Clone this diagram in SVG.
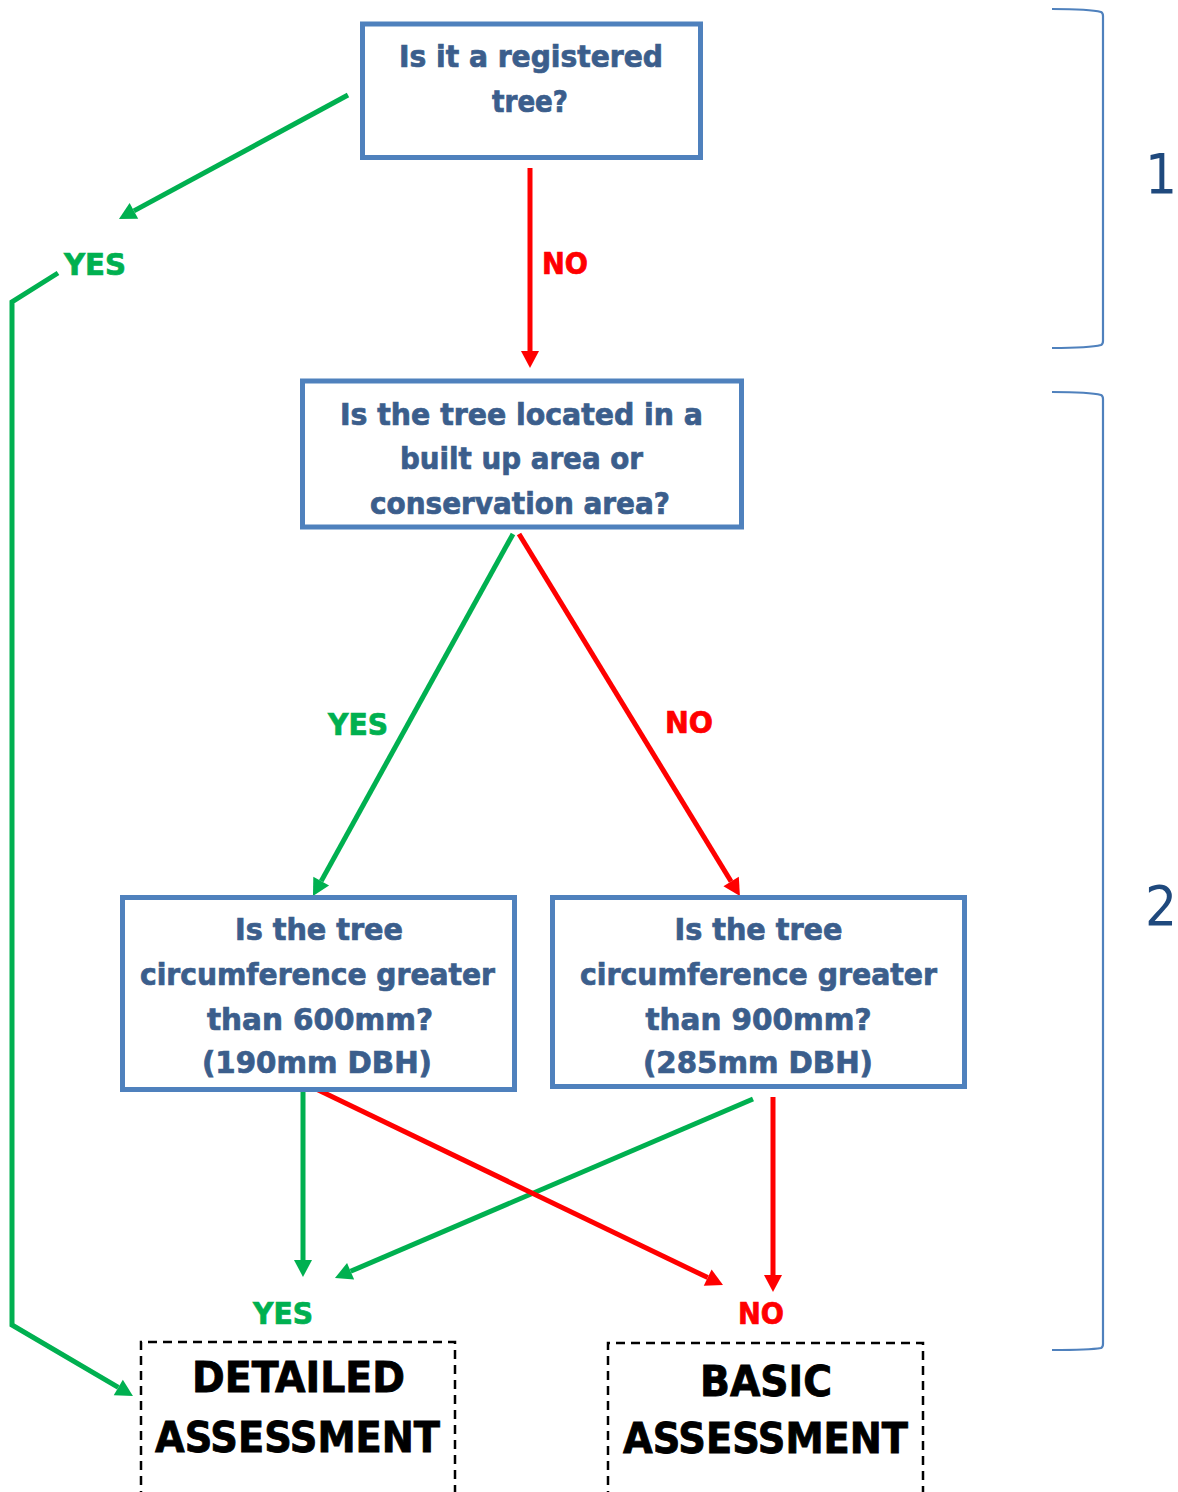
<svg xmlns="http://www.w3.org/2000/svg" width="1178" height="1492" viewBox="0 0 1178 1492">
<style>
  .box { fill: #ffffff; stroke: #4F81BD; stroke-width: 5; }
  .q { font-family: "DejaVu Sans Condensed", "DejaVu Sans", sans-serif; font-stretch: condensed; font-weight: bold; font-size: 31px; fill: #3B5E8C; stroke: #3B5E8C; stroke-width: 0.7; text-anchor: middle; }
  .lblg { font-family: "DejaVu Sans Condensed", "DejaVu Sans", sans-serif; font-stretch: condensed; font-weight: bold; font-size: 31px; fill: #00B050; stroke: #00B050; stroke-width: 0.7; }
  .lblr { font-family: "DejaVu Sans Condensed", "DejaVu Sans", sans-serif; font-stretch: condensed; font-weight: bold; font-size: 31px; fill: #FF0000; stroke: #FF0000; stroke-width: 0.7; }
  .out { fill: none; stroke: #000000; stroke-width: 2.5; stroke-dasharray: 9 6; }
  .big { font-family: "DejaVu Sans Condensed", "DejaVu Sans", sans-serif; font-stretch: condensed; font-weight: bold; font-size: 42px; fill: #000000; stroke: #000000; stroke-width: 0.8; text-anchor: middle; }
  .g { fill: none; stroke: #00B050; stroke-width: 5; marker-end: url(#ag); }
  .r { fill: none; stroke: #FF0000; stroke-width: 5; marker-end: url(#ar); }
  .brace { fill: none; stroke: #4F81BD; stroke-width: 2.2; }
  .num { font-family: "DejaVu Sans Condensed", "DejaVu Sans", sans-serif; font-stretch: condensed; font-size: 56px; fill: #1F497D; text-anchor: middle; }
</style>
<defs>
  <marker id="ag" markerUnits="userSpaceOnUse" markerWidth="20" markerHeight="20" refX="0" refY="9" orient="auto" viewBox="0 0 20 20" overflow="visible">
    <path d="M0,0 L17,9 L0,18 z" fill="#00B050"/>
  </marker>
  <marker id="ar" markerUnits="userSpaceOnUse" markerWidth="20" markerHeight="20" refX="0" refY="9" orient="auto" viewBox="0 0 20 20" overflow="visible">
    <path d="M0,0 L17,9 L0,18 z" fill="#FF0000"/>
  </marker>
</defs>
<rect width="1178" height="1492" fill="#ffffff"/>

<g id="connectors">
  <line class="g" x1="348" y1="95" x2="133.9" y2="210.9"/>
  <polyline class="g" points="58,273 12,302 12,1325 118.3,1387.4"/>
  <line class="r" x1="530" y1="168" x2="530" y2="351"/>
  <line class="g" x1="513" y1="534" x2="321.2" y2="881.1"/>
  <line class="r" x1="519" y1="534" x2="731.1" y2="881.5"/>
  <line class="g" x1="303" y1="1087" x2="303" y2="1260"/>
  <line class="g" x1="753" y1="1099" x2="350.6" y2="1271.3"/>
  <line class="r" x1="312" y1="1087" x2="707.7" y2="1277.6"/>
  <line class="r" x1="773" y1="1097" x2="773" y2="1275"/>
  <text class="lblg" x="64" y="275" textLength="62" lengthAdjust="spacingAndGlyphs">YES</text>
  <text class="lblr" x="542" y="274" textLength="46" lengthAdjust="spacingAndGlyphs">NO</text>
  <text class="lblg" x="328" y="735" textLength="60" lengthAdjust="spacingAndGlyphs">YES</text>
  <text class="lblr" x="665" y="733" textLength="48" lengthAdjust="spacingAndGlyphs">NO</text>
  <text class="lblg" x="253" y="1324" textLength="60" lengthAdjust="spacingAndGlyphs">YES</text>
  <text class="lblr" x="738" y="1324" textLength="46" lengthAdjust="spacingAndGlyphs">NO</text>
</g>

<g id="node-registered">
  <rect class="box" x="362.5" y="24" width="338" height="133.5"/>
  <text class="q" x="531" y="67" textLength="264" lengthAdjust="spacingAndGlyphs">Is it a registered</text>
  <text class="q" x="530" y="112" textLength="76" lengthAdjust="spacingAndGlyphs">tree?</text>
</g>

<g id="node-location">
  <rect class="box" x="302.5" y="381" width="439" height="146"/>
  <text class="q" x="521.5" y="425" textLength="363" lengthAdjust="spacingAndGlyphs">Is the tree located in a</text>
  <text class="q" x="521.5" y="469" textLength="243" lengthAdjust="spacingAndGlyphs">built up area or</text>
  <text class="q" x="520" y="514" textLength="300" lengthAdjust="spacingAndGlyphs">conservation area?</text>
</g>

<g id="node-600">
  <rect class="box" x="122.5" y="897.5" width="392" height="192"/>
  <text class="q" x="319" y="940" textLength="168" lengthAdjust="spacingAndGlyphs">Is the tree</text>
  <text class="q" x="317.5" y="985" textLength="355" lengthAdjust="spacingAndGlyphs">circumference greater</text>
  <text class="q" x="320" y="1030" textLength="226" lengthAdjust="spacingAndGlyphs">than 600mm?</text>
  <text class="q" x="317" y="1073" textLength="230" lengthAdjust="spacingAndGlyphs">(190mm DBH)</text>
</g>

<g id="node-900">
  <rect class="box" x="552.5" y="897.5" width="412" height="189"/>
  <text class="q" x="758.5" y="940" textLength="168" lengthAdjust="spacingAndGlyphs">Is the tree</text>
  <text class="q" x="758.5" y="985" textLength="357" lengthAdjust="spacingAndGlyphs">circumference greater</text>
  <text class="q" x="758.5" y="1030" textLength="226" lengthAdjust="spacingAndGlyphs">than 900mm?</text>
  <text class="q" x="758" y="1073" textLength="230" lengthAdjust="spacingAndGlyphs">(285mm DBH)</text>
</g>

<g id="node-detailed">
  <path class="out" d="M141,1500 L141,1342 L455,1342 L455,1500"/>
  <text class="big" x="298.5" y="1392" textLength="213" lengthAdjust="spacingAndGlyphs">DETAILED</text>
  <text class="big" x="297.5" y="1452" textLength="285" lengthAdjust="spacingAndGlyphs">ASSESSMENT</text>
</g>

<g id="node-basic">
  <path class="out" d="M608,1500 L608,1343 L923,1343 L923,1500"/>
  <text class="big" x="766" y="1396" textLength="132" lengthAdjust="spacingAndGlyphs">BASIC</text>
  <text class="big" x="765.5" y="1453" textLength="285" lengthAdjust="spacingAndGlyphs">ASSESSMENT</text>
</g>

<g id="stage-1">
  <path class="brace" d="M1052,9 Q1090,9 1101,12 Q1103,13 1103,16 L1103,341 Q1103,344 1101,345 Q1090,348 1052,348"/>
  <text class="num" x="1161" y="193">1</text>
</g>

<g id="stage-2">
  <path class="brace" d="M1052,392 Q1090,392 1101,395 Q1103,396 1103,399 L1103,1344 Q1103,1347 1101,1348 Q1090,1350 1052,1350"/>
  <text class="num" x="1161" y="925">2</text>
</g>
</svg>
